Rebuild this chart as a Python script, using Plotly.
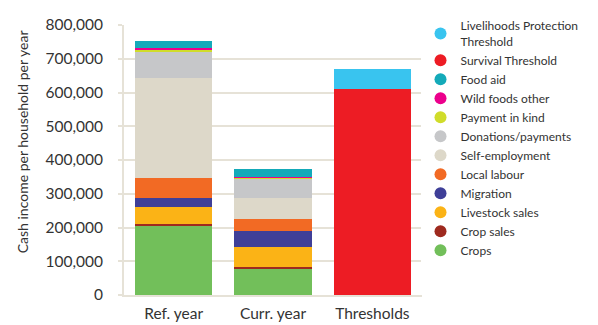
import plotly.graph_objects as go

categories = ["Ref. year", "Curr. year", "Thresholds"]

series_names = ["Crops", "Crop sales", "Livestock sales", "Migration", "Local labour",
                "Self-employment", "Donations/payments", "Payment in kind",
                "Wild foods other", "Food aid", "Survival Threshold",
                "Livelihoods Protection<br>Threshold"]

crops = [203000, 78000, 0]
crop_sales = [8000, 5000, 0]
livestock_sales = [49000, 60000, 0]
migration = [26000, 48000, 0]
local_labour = [60000, 35000, 0]
self_employment = [297000, 60000, 0]
donations = [77000, 57000, 0]
payment_in_kind = [6000, 6000, 0]
wild_foods = [5000, 2000, 0]
food_aid = [23000, 23000, 0]
survival = [0, 0, 611000]
lpt = [0, 0, 58000]

values = [crops, crop_sales, livestock_sales, migration, local_labour, self_employment,
          donations, payment_in_kind, wild_foods, food_aid, survival, lpt]

colors = ["#72bf5a", "#9e2a1f", "#fbb316", "#3f3f98", "#f26a24", "#ddd8c9",
          "#c6c7c9", "#d0dc2a", "#ec008c", "#14aab9", "#ed1c24", "#39c4ef"]

y_ticks = [0, 100000, 200000, 300000, 400000, 500000, 600000, 700000, 800000]
y_title = "Cash income per household per year"

font_family = "Lato, 'Open Sans', sans-serif"
grid_color = "#e6e2d7"

fig = go.Figure()
for name, vals, col in zip(series_names, values, colors):
    fig.add_trace(go.Bar(x=categories, y=vals, name=name, marker_color=col,
                         marker_line_width=0, showlegend=False, legendgroup=name))
    fig.add_trace(go.Scatter(x=[None], y=[None], mode="markers", name=name,
                             legendgroup=name,
                             marker=dict(color=col, size=12, symbol="circle")))

fig.add_annotation(text=y_title, textangle=-90, xref="paper", yref="paper",
                   x=-0.342, y=0.566, xanchor="center", yanchor="middle",
                   showarrow=False, font=dict(size=14, color="#333333"))

fig.update_layout(
    barmode="stack",
    bargap=0.22,
    width=598, height=325,
    margin=dict(l=124, r=176, t=15, b=30),
    plot_bgcolor="white", paper_bgcolor="white",
    font=dict(family=font_family, color="#333333"),
    legend=dict(traceorder="reversed", x=0.995, xanchor="left", y=1.05, yanchor="top",
                font=dict(size=12, color="#333333"), tracegroupgap=0,
                itemwidth=30, maxheight=1.0),
    xaxis=dict(showline=True, linecolor=grid_color, linewidth=2, automargin=False,
               ticklabelstandoff=3,
               tickfont=dict(size=15.5, color="#333333"), range=[-0.5, 2.5]),
    yaxis=dict(range=[0, 800000], tickvals=y_ticks, automargin=False,
               ticktext=[f"{v:,}" for v in y_ticks],
               showgrid=True, gridcolor=grid_color, gridwidth=2,
               showline=True, linecolor=grid_color, linewidth=2,
               ticks="outside", ticklen=4, tickcolor=grid_color, tickwidth=2,
               ticklabelstandoff=12,
               tickfont=dict(size=15.5, color="#333333")),
)

fig.write_html("out.html")
